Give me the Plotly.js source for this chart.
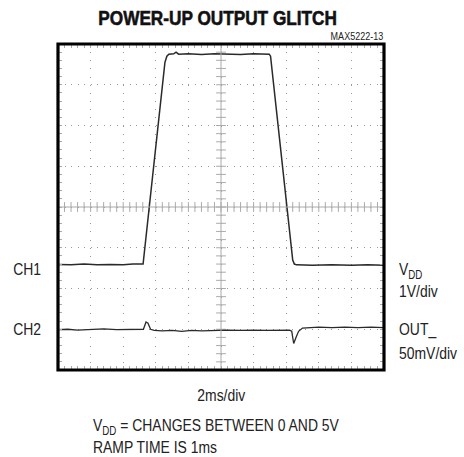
<!DOCTYPE html>
<html>
<head>
<meta charset="utf-8">
<script src="https://cdn.plot.ly/plotly-3.0.1.min.js"></script>
<style>html,body{margin:0;padding:0;background:#fff;}#chart{width:464px;height:457px;}</style>
</head>
<body>
<div id="chart"></div>
<script>
// Time axis in divisions (2ms/div), vertical axis in divisions
var ch1Time = [0, 0.4, 0.8, 1.2, 1.6, 2.0, 2.3, 2.61, 3.28, 3.34, 3.4, 3.55, 3.62, 3.7, 4.0, 4.4, 4.8, 5.2, 5.6, 6.0, 6.3, 6.48, 6.52, 7.2, 7.25, 7.32, 7.8, 8.4, 9.0, 9.5, 10];
var ch1Div  = [2.59, 2.58, 2.60, 2.58, 2.59, 2.58, 2.60, 2.60, 7.55, 7.70, 7.75, 7.76, 7.80, 7.75, 7.76, 7.74, 7.76, 7.75, 7.74, 7.76, 7.75, 7.75, 7.70, 2.70, 2.60, 2.58, 2.57, 2.58, 2.57, 2.58, 2.57];

var ch2Time = [0, 0.3, 0.6, 1.0, 1.4, 1.8, 2.2, 2.5, 2.62, 2.7, 2.76, 2.84, 2.95, 3.2, 3.5, 3.8, 4.1, 4.4, 4.8, 5.2, 5.6, 6.0, 6.4, 6.8, 7.1, 7.17, 7.23, 7.3, 7.38, 7.5, 7.7, 8.0, 8.4, 8.8, 9.2, 9.6, 10];
var ch2Div  = [0.99, 1.00, 0.98, 1.00, 1.01, 0.99, 1.00, 0.99, 1.00, 1.18, 1.15, 1.00, 0.97, 0.96, 0.97, 0.95, 0.97, 0.96, 0.97, 0.98, 0.97, 0.98, 0.97, 0.98, 0.98, 0.95, 0.65, 0.80, 0.95, 1.03, 1.04, 1.05, 1.04, 1.05, 1.04, 1.05, 1.04];

var xDivisions = 10, yDivisions = 8, minorStep = 0.2;

var FONT = '"Liberation Sans", Arial, sans-serif';
var NARROW = 0.82; // horizontal condensing of text to mimic a narrow face

// crosshair tick marks along centre axes
var hx = [], hy = [], vx = [], vy = [];
for (var i = 0; i <= xDivisions / minorStep; i++) { hx.push(i * minorStep); hy.push(yDivisions / 2); }
for (var j = 0; j <= yDivisions / minorStep; j++) { vy.push(j * minorStep); vx.push(xDivisions / 2); }

var traces = [
  {x: hx, y: hy, mode: 'markers', marker: {symbol: 'line-ns', size: 7, line: {color: '#aaa', width: 1}}, hoverinfo: 'skip'},
  {x: vx, y: vy, mode: 'markers', marker: {symbol: 'line-ew', size: 7, line: {color: '#aaa', width: 1}}, hoverinfo: 'skip'},
  {x: ch1Time, y: ch1Div, mode: 'lines', line: {color: '#2a2a2a', width: 1.5}, name: 'CH1'},
  {x: ch2Time, y: ch2Div, mode: 'lines', line: {color: '#2a2a2a', width: 1.3}, name: 'CH2'}
];

function ann(text, x, y, xanchor, size) {
  return {text: text, x: x, y: y, xref: 'paper', yref: 'paper', xanchor: xanchor, yanchor: 'middle',
          align: xanchor === 'center' ? 'center' : xanchor,
          showarrow: false, font: {family: FONT, size: size || 17, color: '#222'}};
}

var layout = {
  width: 464, height: 457,
  margin: {l: 58, r: 80, t: 44, b: 87},
  paper_bgcolor: '#fff', plot_bgcolor: '#fff',
  showlegend: false,
  title: {text: '<b>POWER-UP OUTPUT GLITCH</b>', x: 0.469, xref: 'container', xanchor: 'center',
          y: 0.962, yref: 'container', yanchor: 'middle',
          font: {family: FONT, size: 21, color: '#111'}},
  xaxis: {range: [0, xDivisions], dtick: 1, showticklabels: false, zeroline: false,
          showgrid: true, gridcolor: '#999', gridwidth: 1, griddash: '1px,7.15px',
          ticks: 'inside', ticklen: 4, tickcolor: '#aaa', mirror: 'allticks', showline: false,
          minor: {dtick: minorStep, ticks: 'inside', ticklen: 4, tickcolor: '#aaa', showgrid: false},
          fixedrange: true},
  yaxis: {range: [0, yDivisions], dtick: 1, showticklabels: false, zeroline: false,
          showgrid: true, gridcolor: '#999', gridwidth: 1, griddash: '1px,5.5px',
          ticks: 'inside', ticklen: 4, tickcolor: '#aaa', mirror: 'allticks', showline: false,
          minor: {dtick: minorStep, ticks: 'inside', ticklen: 4, tickcolor: '#aaa', showgrid: false},
          fixedrange: true},
  shapes: [
    {type: 'line', xref: 'x', yref: 'y', x0: 0, x1: xDivisions, y0: yDivisions / 2, y1: yDivisions / 2, line: {color: '#aaa', width: 1}},
    {type: 'line', xref: 'x', yref: 'y', x0: xDivisions / 2, x1: xDivisions / 2, y0: 0, y1: yDivisions, line: {color: '#aaa', width: 1}},
    {type: 'rect', xref: 'paper', yref: 'paper', x0: 0, x1: 1, y0: 0, y1: 1, line: {color: '#000', width: 3.2}, layer: 'above'}
  ],
  annotations: [
    ann('MAX5222-13', 1.003, 1.0245, 'right', 11),
    ann('CH1', -0.046, 0.308, 'right'),
    ann('CH2', -0.046, 0.125, 'right'),
    ann('V<sub>DD</sub>', 1.04, 0.303, 'left'),
    ann('1V/div', 1.04, 0.240, 'left'),
    ann('OUT_', 1.04, 0.123, 'left'),
    ann('50mV/div', 1.04, 0.051, 'left'),
    ann('2ms/div', 0.5, -0.077, 'center'),
    ann('V<sub>DD</sub> = CHANGES BETWEEN 0 AND 5V<br>RAMP TIME IS 1ms', 0.100, -0.2055, 'left')
  ]
};

// squeeze a text element horizontally about its anchor point
function condense(t) {
  var ax = parseFloat(t.getAttribute('x')) || 0;
  var prev = t.getAttribute('transform') || '';
  t.setAttribute('transform', (prev + ' translate(' + ax + ',0) scale(' + NARROW + ',1) translate(' + (-ax) + ',0)').trim());
}

var gd = document.getElementById('chart');
Plotly.newPlot(gd, traces, layout, {displayModeBar: false, staticPlot: true}).then(function () {
  gd.querySelectorAll('.annotation').forEach(function (g) {
    var t = g.querySelector('.annotation-text');
    if (!t) return;
    var w = t.getBBox().width;
    condense(t);
    var shrink = w * (1 - NARROW);
    var rect = g.querySelector('rect.bg');
    if (rect && shrink > 0) {
      var anchor = t.getAttribute('text-anchor');
      var rw = parseFloat(rect.getAttribute('width')) || 0;
      var rx = parseFloat(rect.getAttribute('x')) || 0;
      var dx = anchor === 'end' ? shrink : (anchor === 'middle' ? shrink / 2 : 0);
      rect.setAttribute('width', Math.max(0, rw - shrink).toFixed(1));
      rect.setAttribute('x', (rx + dx).toFixed(1));
    }
  });
  gd.querySelectorAll('.gtitle').forEach(function (t) {
    condense(t);
    t.style.stroke = '#111';
    t.style.strokeWidth = '0.6px';
  });
});
</script>
</body>
</html>
